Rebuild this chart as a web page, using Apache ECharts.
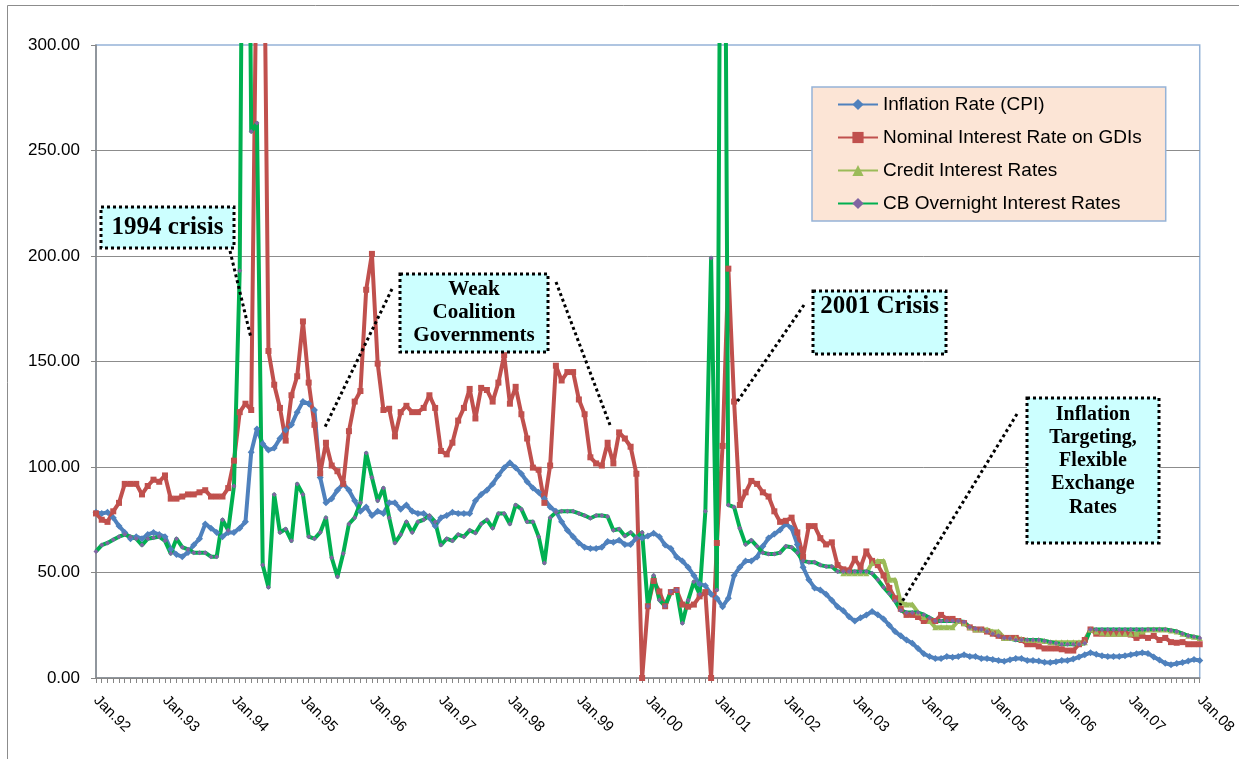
<!DOCTYPE html>
<html>
<head>
	<meta http-equiv="Content-Type" content="text/html;charset=utf-8">
	<title>Inflation and interest rates</title>
	<script src="https://cdn.jsdelivr.net/npm/echarts@6.0.0/dist/echarts.min.js"></script>
	<style>
		html, body {margin: 0; padding: 0; background: #fff;}
		#main {width: 1239px; height: 759px;}
	</style>
</head>
<body>
<div id="main"></div>
<script type="text/javascript">
	// monthly data, Jan.92 .. Jan.08 (one row per year)
	var monthNames = ['Jan','Feb','Mar','Apr','May','Jun','Jul','Aug','Sep','Oct','Nov','Dec'];
	var firstYear = 1992, lastYear = 2008;
	var yTicks = [0, 50, 100, 150, 200, 250, 300];

	var cpi = [
		78.5, 78, 78.5, 76, 72, 69, 66, 67, 66, 68, 69, 68,
		67, 61, 58.5, 57.5, 59.5, 63, 66, 73, 71, 69, 67, 69,
		69, 71, 74, 107, 118, 111, 108, 109, 113.5, 117.5, 120, 126,
		131, 130, 127, 95, 83, 85, 89, 92, 89, 84, 79, 81,
		77, 79, 78, 83, 83, 80, 82, 79, 78, 78, 76, 72,
		76, 77, 78.5, 78, 78, 78, 84, 87, 89, 92, 96, 99.7,
		102, 99.7, 96.8, 93, 90, 88, 85, 81, 79, 74, 70, 67,
		64, 62, 61.4, 61.4, 62, 64.7, 64.3, 65.3, 63.3, 63.3, 66.3, 66.3,
		67.3, 68.6, 67, 63, 61.4, 57.4, 55.5, 52.5, 48.6, 44.6, 43.7, 39.7,
		37.8, 33.8, 37.8, 48.6, 52.5, 55.5, 55.5, 57.4, 62.4, 66.3, 68.2, 70.2,
		73, 71, 63.3, 52.5, 46.6, 42.7, 41.7, 39.7, 36.8, 33.8, 31.9, 29,
		27, 28.5, 29.9, 31.5, 30, 28, 25, 22, 20, 18, 16.5, 14,
		11.5, 10.2, 9.2, 9.2, 10.2, 9.8, 10.2, 11, 10.2, 10.2, 9.2, 9.2,
		8.8, 8.3, 7.9, 8.7, 9.2, 9.2, 8.3, 8.3, 8, 7.5, 7.3, 7.7,
		8.3, 8.3, 9, 10, 11, 12, 11.2, 10.5, 10.2, 10.2, 10.2, 10.5,
		11, 11.5, 12, 11.6, 10, 8.5, 7, 6.3, 6.9, 7.3, 8, 8.8,
		8.3
	];

	var gdiRate = [
		78, 75, 74, 79, 83, 92, 92, 92, 87, 91, 94, 93,
		96, 85, 85, 86, 87, 87, 88, 89, 86, 86, 86, 90,
		103, 126, 130, 127, 360, 420, 155, 139, 128, 112.5, 134, 143,
		169, 140, 120, 97, 111.5, 100.7, 98, 92, 117, 131, 136, 184,
		201, 149, 127, 127.6, 114.5, 126, 129, 126, 126, 128, 134, 128,
		107.6, 106, 111.5, 122, 128, 137, 123, 137.5, 136.5, 131, 140, 153,
		130, 138, 125, 113.5, 99.7, 98.7, 83, 100.7, 148, 141, 145, 145,
		132, 125, 104.6, 101.7, 100.7, 111.5, 101.7, 116.4, 113.5, 109.6, 96.8, 0,
		34, 46, 41, 34, 40.7, 41.7, 34.8, 33.8, 34.8, 38.7, 40.7, 0,
		64, 110, 194, 131, 82, 88, 93.4, 92, 88, 86, 79, 74,
		74.5, 76, 69, 57.4, 72, 72, 66.3, 63.3, 64.3, 53.5, 51.5, 51,
		56.5, 52.5, 60, 55.5, 53.5, 48.6, 42.7, 37.8, 32.8, 29.9, 29.9, 28.9,
		27, 27, 27, 29.9, 28, 28, 27, 26, 24, 23, 23, 22,
		21, 20, 19, 19, 19, 18, 16, 16, 15, 14, 14, 14,
		13.6, 13, 13, 16, 18, 23, 21, 21, 21, 21, 21, 21,
		20.6, 19, 20, 19, 20, 18, 19, 17, 16.7, 17, 16, 16,
		16
	];

	// credit rates only start in late 2002 (Nov.02)
	var creditStart = 130;
	var credit = [
		49.6, 49.6,
		49.6, 49.6, 49.6, 54.5, 55.5, 55.5, 46.6, 46.6, 35.8, 34.8, 34.8, 31,
		28.9, 27, 24, 24, 24, 24, 27, 26, 24, 23, 23, 23,
		22, 22, 19, 19, 19, 18.5, 18, 18, 18, 17.5, 17, 17,
		17, 17, 17, 17, 17, 23, 22, 21.5, 21, 21, 21, 21,
		21, 21, 22, 23, 23, 23, 23, 22.5, 22, 21, 20, 19.5,
		19
	];

	var overnight = [
		60, 63, 64, 65.5, 67, 68, 67, 66, 63, 66, 66.5, 67,
		65, 59, 66, 62, 61, 59.4, 59.4, 59.4, 57.5, 57.5, 75, 70,
		91, 193, 600, 259, 263, 53.5, 43, 87, 69, 70.6, 65, 92,
		87, 67, 66, 69, 76, 57, 48, 59, 73, 76, 83, 106.6,
		95, 84, 90, 76, 64, 68, 74, 69, 74, 75, 77, 74,
		63, 66, 65, 68, 67, 70, 68.7, 73, 75, 71, 78, 78,
		73, 82, 80, 74, 74, 67, 54.5, 76, 78.5, 79, 79, 79,
		78, 77, 75.7, 77, 77, 76.5, 70, 70.6, 67.3, 69, 66.3, 69,
		34, 48.6, 37, 34, 41, 41.7, 26, 36.8, 45.6, 39.7, 79, 199,
		41.7, 600, 82, 81, 71, 63.3, 65.3, 62.4, 59.4, 58.8, 58.8, 59.4,
		62.4, 62, 59.4, 55.5, 54.9, 54.9, 53.5, 52.9, 52.9, 50.5, 50.5, 50.5,
		50.5, 50.5, 50.5, 49.6, 46.6, 43, 40, 36.5, 32, 31, 31, 31,
		30, 28.5, 27, 27, 27, 27, 27, 26.5, 24, 23.4, 23, 22,
		21, 20, 19, 18.7, 18, 18, 18, 18, 18, 17.5, 17, 16.5,
		16, 16, 16, 16, 16.5, 23, 23, 23, 23, 23, 23, 23,
		23, 23, 23, 23, 23, 23, 23, 22.5, 22, 21, 20, 19.5,
		19
	];

	var seriesNames = [
		'Inflation Rate (CPI)',
		'Nominal Interest Rate on GDIs',
		'Credit Interest Rates',
		'CB Overnight Interest Rates'
	];

	var categories = [];
	for (var yr = firstYear; yr <= lastYear; yr++) {
		for (var mi = 0; mi < 12; mi++) {
			if (yr === lastYear && mi > 0) break;
			categories.push(monthNames[mi] + '.' + String(yr).slice(2));
		}
	}
	var creditFull = categories.map(function (c, i) {
		return i < creditStart ? null : credit[i - creditStart];
	});

	var sansFont = '"Liberation Sans", Arial, sans-serif';
	var serifBold = 'bold {size}px "Liberation Serif", "Times New Roman", serif';
	var dots = [3, 3];

	function noteBox(x, y, w, h) {
		return {
			type: 'rect', z: 20, silent: true,
			shape: {x: x, y: y, width: w, height: h},
			style: {fill: '#CCFFFF', stroke: '#000', lineWidth: 3, lineDash: dots}
		};
	}
	function noteText(txt, x, y, size, lh) {
		return {
			type: 'text', z: 21, silent: true,
			style: {
				text: txt, x: x, y: y,
				font: serifBold.replace('{size}', size),
				fill: '#000',
				align: 'center', textAlign: 'center',
				verticalAlign: 'middle', textVerticalAlign: 'middle',
				lineHeight: lh
			}
		};
	}
	function leader(x1, y1, x2, y2) {
		return {
			type: 'line', z: 20, silent: true,
			shape: {x1: x1, y1: y1, x2: x2, y2: y2},
			style: {stroke: '#000', lineWidth: 3, lineDash: dots}
		};
	}

	function lineSeries(name, data, symbol, size, lineColor, markColor) {
		return {
			name: name,
			type: 'line',
			data: data,
			symbol: symbol,
			symbolSize: size,
			showAllSymbol: true,
			connectNulls: false,
			clip: true,
			lineStyle: {color: lineColor, width: 4, join: 'round'},
			itemStyle: {color: markColor || lineColor}
		};
	}

	var myChart = echarts.init(document.getElementById('main'));
	var option = {
		animation: false,
		backgroundColor: '#fff',
		grid: {
			left: 96, top: 45, right: 39, bottom: 81,
			show: true, borderColor: '#95B3D7', borderWidth: 1.5,
			containLabel: false
		},
		legend: {
			orient: 'vertical',
			left: 812, top: 87,
			padding: [8, 24, 8, 25],
			itemGap: 14,
			itemWidth: 40, itemHeight: 14,
			backgroundColor: '#FCE5D6',
			borderColor: '#95B3D7', borderWidth: 1.5,
			textStyle: {fontSize: 19, color: '#000', fontFamily: sansFont},
			data: seriesNames
		},
		xAxis: {
			type: 'category',
			boundaryGap: false,
			data: categories,
			axisLine: {lineStyle: {color: '#868686', width: 1.5}},
			axisTick: {show: true, interval: 0, length: 5, lineStyle: {color: '#868686'}},
			axisLabel: {
				interval: 11, rotate: -45, margin: 20,
				fontSize: 15, color: '#000', fontFamily: sansFont
			},
			splitLine: {show: false}
		},
		yAxis: {
			type: 'value',
			min: yTicks[0], max: yTicks[yTicks.length - 1], interval: 50,
			axisLine: {show: true, lineStyle: {color: '#868686', width: 1.5}},
			axisTick: {show: true, length: 5, lineStyle: {color: '#868686'}},
			axisLabel: {
				margin: 16, fontSize: 17, color: '#000', fontFamily: sansFont,
				formatter: function (v) { return v.toFixed(2); }
			},
			splitLine: {show: true, showMaxLine: false, lineStyle: {color: '#8c8c8c', width: 1}}
		},
		series: [
			lineSeries(seriesNames[0], cpi, 'diamond', 7, '#4F81BD'),
			lineSeries(seriesNames[1], gdiRate, 'rect', 6, '#C0504D'),
			lineSeries(seriesNames[2], creditFull, 'triangle', 6, '#9BBB59'),
			lineSeries(seriesNames[3], overnight, 'diamond', 5, '#00B050', '#8064A2')
		],
		graphic: [
			// outer frame of the pasted chart
			{type: 'rect', silent: true, z: 0, shape: {x: 7.5, y: 5.5, width: 1300, height: 800},
				style: {fill: 'none', stroke: '#8c8c8c', lineWidth: 1}},

			noteBox(101, 207, 133, 41),
			noteText('1994 crisis', 167.5, 228, 25, 28),
			leader(230, 251, 251, 338),

			noteBox(400, 274, 148, 78),
			noteText('Weak\nCoalition\nGovernments', 474, 313, 21, 23),
			leader(392, 289, 325, 427),
			leader(556, 282, 610, 425),

			noteBox(813, 291, 133, 63),
			noteText('2001 Crisis', 879.5, 307, 25, 28),
			leader(804, 305, 737, 402),

			noteBox(1027, 398, 132, 145),
			noteText('Inflation\nTargeting,\nFlexible\nExchange\nRates', 1093, 461, 20, 23.2),
			leader(1017, 414, 900, 605)
		]
	};
	myChart.setOption(option);
</script>
</body>
</html>
